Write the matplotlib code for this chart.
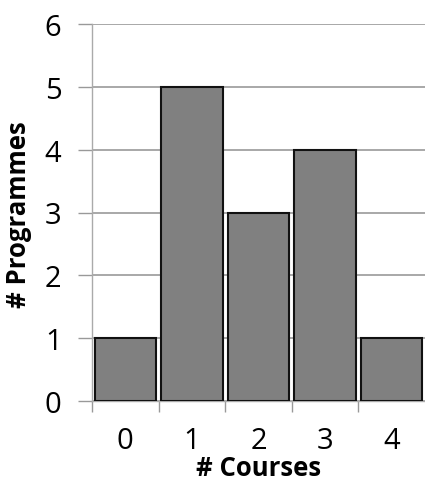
import matplotlib
matplotlib.use("Agg")
import matplotlib.pyplot as plt
import numpy as np

categories = ["0", "1", "2", "3", "4"]
values = [1, 5, 3, 4, 1]
yticks = [0, 1, 2, 3, 4, 5, 6]

plt.rcParams['font.family'] = ['Open Sans', 'DejaVu Sans']

fig = plt.figure(figsize=(4.25, 4.81), dpi=100)
ax = fig.add_axes([92/425, 1-402/481, 1-92/425, (402-25)/481])

x = np.arange(len(categories))
ax.bar(x, values, width=0.92, color="#808080", edgecolor="#111111", linewidth=1.5, zorder=3)

ax.set_xlim(-0.5, 4.5)
ax.set_ylim(0, 6)
ax.set_yticks(yticks)
ax.set_yticklabels([str(t) for t in yticks], fontsize=21)
ax.set_xticks(x)
ax.set_xticklabels(categories, fontsize=21)
ax.set_xticks(np.arange(-0.5, 4.5, 1), minor=True)
ax.tick_params(axis='x', which='major', length=0, pad=18)
ax.tick_params(axis='x', which='minor', length=8, color="#999999", width=1, direction='out')
ax.tick_params(axis='y', length=10, color="#999999", width=1, pad=12)

ax.grid(axis='y', color="#999999", linewidth=1.2, zorder=0)
for s in ['top', 'right']:
    ax.spines[s].set_visible(False)
for s in ['left', 'bottom']:
    ax.spines[s].set_color("#aaaaaa")
    ax.spines[s].set_linewidth(1)

ax.set_xlabel("# Courses", fontsize=18.5, fontweight='bold', va='center')
ax.xaxis.set_label_coords(0.5, (402 - 469) / 377)
ax.set_ylabel("# Programmes", fontsize=18.5, fontweight='bold', va='center')
ax.yaxis.set_label_coords((19 - 92) / 333, (402 - 215) / 377)

fig.savefig("out.png", dpi=100)
